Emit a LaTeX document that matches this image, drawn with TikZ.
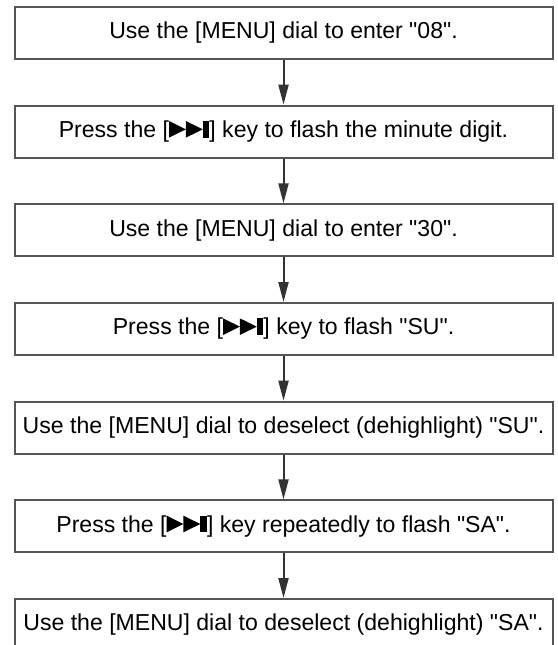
\documentclass[tikz,border=0pt]{standalone}
\usepackage{fontspec}
\newfontfamily\stepfont{Liberation Sans}
\usetikzlibrary{positioning,arrows.meta}

\definecolor{boxgray}{HTML}{555555}
\definecolor{arrowgray}{HTML}{333333}

% the skip key glyph
\newcommand{\skipkey}{\tikz[baseline=0pt,x=1em,y=1em]{
  \fill (0.03,0) -- (0.03,0.72) -- (0.76,0.36) -- cycle;
  \fill (0.76,0) -- (0.76,0.72) -- (1.49,0.36) -- cycle;
  \fill (1.49,0) rectangle (1.78,0.72);}}

\begin{document}
\begin{tikzpicture}[x=0.75pt, y=-0.75pt,
  stepbox/.style={draw=boxgray, line width=1.5pt, minimum width=403.5pt,
    minimum height=39pt, inner sep=0pt, font=\stepfont\fontsize{17.3}{20}\selectfont},
  flowarrow/.style={draw=arrowgray, line width=1.5pt,
    -{Triangle[length=15pt, width=7.5pt]}},
  node distance=33.5pt]
  \useasboundingbox (0,0) rectangle (557,645);
  \node[stepbox] (s1) at (283.5,33) {Use the [MENU] dial to enter "08".};
  \node[stepbox, below=of s1] (s2) {Press the [\skipkey] key to flash the minute digit.};
  \node[stepbox, below=of s2] (s3) {Use the [MENU] dial to enter "30".};
  \node[stepbox, below=of s3] (s4) {Press the [\skipkey] key to flash "SU".};
  \node[stepbox, below=of s4] (s5) {Use the [MENU] dial to deselect (dehighlight) "SU".};
  \node[stepbox, below=of s5] (s6) {Press the [\skipkey] key repeatedly to flash "SA".};
  \node[stepbox, below=of s6] (s7) {Use the [MENU] dial to deselect (dehighlight) "SA".};
  \foreach \a/\b in {s1/s2,s2/s3,s3/s4,s4/s5,s5/s6,s6/s7}
    \draw[flowarrow] (\a) -- (\b);
\end{tikzpicture}
\end{document}
